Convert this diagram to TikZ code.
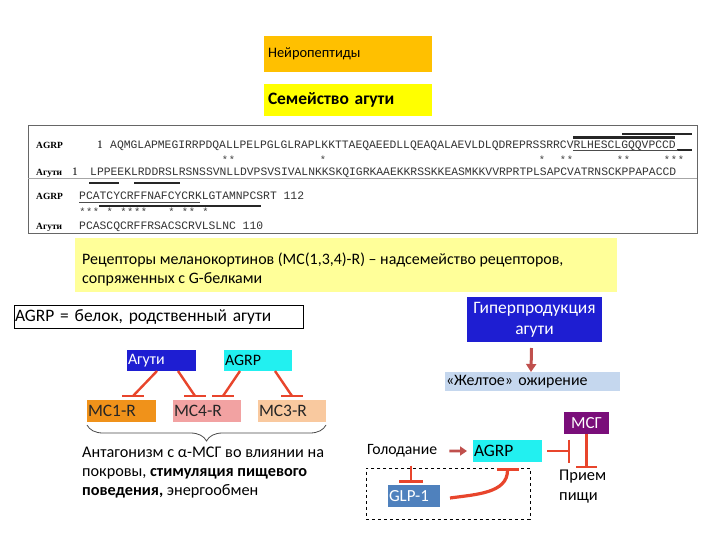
\documentclass[tikz,border=0pt]{standalone}
\usepackage{fontspec}
\setmainfont{Carlito}
\newfontfamily\seqfont{Liberation Mono}
\newfontfamily\labfont{Liberation Serif}
\usetikzlibrary{arrows.meta,decorations.pathreplacing,calc}
\definecolor{nporange}{HTML}{FFC000}
\definecolor{famyel}{HTML}{FFFF00}
\definecolor{recyel}{HTML}{FFFF99}
\definecolor{agublue}{HTML}{1E1ED2}
\definecolor{agrcyan}{HTML}{22F0F0}
\definecolor{mconec}{HTML}{F0921A}
\definecolor{mcfourc}{HTML}{F2A2A2}
\definecolor{mcthreec}{HTML}{F9C99F}
\definecolor{inhred}{HTML}{E8452C}
\definecolor{arrbrown}{HTML}{C0504D}
\definecolor{obblue}{HTML}{C5D7EE}
\definecolor{msgpurple}{HTML}{7A0E7A}
\definecolor{glpblue}{HTML}{4F81BD}
\begin{document}
\begin{tikzpicture}[x=1bp,y=-1bp,
  box/.style={anchor=north west, inner ysep=0, outer sep=0, align=left},
  seqt/.style={font=\seqfont\fontsize{11.4}{12}\selectfont, text=black!80, inner sep=0, anchor=base west},
  labt/.style={font=\labfont\bfseries\fontsize{9.5}{11}\selectfont, inner sep=0, anchor=base west},
  numt/.style={font=\labfont\fontsize{11.5}{12}\selectfont, inner sep=0, anchor=base west},
  start/.style={font=\seqfont\fontsize{10.5}{12}\selectfont, text=black!75, inner sep=0, anchor=base},
  seqbar/.style={line width=2.6bp, black!85},
  uline/.style={line width=0.6bp, black!70},
  inh/.style={draw=inhred, line width=2.4bp},
  brarrow/.style={draw=arrbrown, line width=3bp, -{Triangle[width=10bp,length=8bp]}},
]
\useasboundingbox (0,0) rectangle (720,540);
\fill[white] (0,0) rectangle (720,540);

% top boxes
\node[box, fill=nporange, minimum height=36bp, text width=160bp, inner xsep=4bp,
  font=\fontsize{14.5}{16}\selectfont] (np) at (264,36) {Нейропептиды};
\node[box, fill=famyel, minimum height=32bp, text width=160bp, inner xsep=4bp,
  font=\bfseries\fontsize{17.5}{19}\selectfont] (fam) at (264,84) {Семейство агути};

% sequence alignment
\node[box, draw=black!60, line width=1bp, minimum width=669bp, minimum height=107bp, inner sep=0] (seqbox) at (28,126) {};
\draw[black!35, line width=0.8bp] (seqbox.west |- 0,178) -- (seqbox.east |- 0,178);

\node[labt] (la1) at (36,148.3) {AGRP};
\node[numt] (n1) at (97,148.3) {1};
\node[seqt] (s1) at (110,148.3) {AQMGLAPMEGIRRPDQALLPELPGLGLRAPLKKTTAEQAEEDLLQEAQALAEVLDLQDREPRSSRRCVRLHESCLGQQVPCCD};
\node[labt] (lb1) at (36,175.5) {Агути};
\node[numt] (n2) at (72,175.5) {1};
\node[seqt] (s2) at (90,175.5) {LPPEEKLRDDRSLRSNSSVNLLDVPSVSIVALNKKSKQIGRKAAEKKRSSKKEASMKKVVRPRTPLSAPCVATRNSCKPPAPACCD};
\node[labt] (la2) at (36,199.5) {AGRP};
\node[seqt] (s3) at (79,199.5) {PCATCYCRFFNAFCYCRKLGTAMNPCSRT 112};
\node[labt] (lb2) at (36,229.5) {Агути};
\node[seqt] (s4) at (79,229.5) {PCASCQCRFFRSACSCRVLSLNC 110};

\foreach \sx [count=\i] in {225,232,323,542,563,570,620,627,667,674,681}
  \node[start] (sa\i) at (\sx,164) {*};
\foreach \sx [count=\i] in {82.4,89.3,96.1,109.8,123.5,130.3,137.2,144,171.4,185.1,191.9,205.6}
  \node[start] (sb\i) at (\sx,216) {*};

\draw[seqbar] (622,134) -- (692,134);
\draw[seqbar] (573,137.5) -- (675,137.5);
\draw[seqbar] (677,150) -- (692,150);
\draw[uline] (573,150.5) -- (678,150.5);
\draw[seqbar] (89,183) -- (119,183);
\draw[seqbar] (134,183) -- (180,183);
\draw[uline] (79,202) -- (200,202);
\draw[seqbar] (99,206) -- (261,206);

% receptors
\node[box, fill=recyel, minimum width=542bp, minimum height=54bp, inner sep=0] (rec) at (75,238) {};
\node[anchor=north west, inner sep=0, align=left, font=\fontsize{16}{19}\selectfont] (rect) at (82,253)
  {Рецепторы меланокортинов (MC(1,3,4)-R) – надсемейство рецепторов,\\сопряженных с G-белками};

% AGRP = ...
\node[box, draw=black, line width=0.8bp, minimum height=23bp, text width=287bp, inner xsep=1bp,
  font=\fontsize{17.5}{19}\selectfont] (agb) at (14,305) {AGRP = белок, родственный агути};

% left diagram
\node[box, fill=agublue, text=white, minimum height=21bp, text width=67bp, inner xsep=1bp,
  font=\fontsize{16}{18}\selectfont] (agu) at (127,350) {Агути};
\node[box, fill=agrcyan, minimum height=21bp, text width=66bp, inner xsep=1bp,
  font=\fontsize{16}{18}\selectfont] (agr) at (224,350) {AGRP};
\node[box, fill=mconec, text=black!85, minimum height=22bp, text width=67bp, inner xsep=1bp,
  font=\fontsize{17.5}{19}\selectfont] (mc1) at (87,400) {MC1-R};
\node[box, fill=mcfourc, text=black!85, minimum height=22bp, text width=66bp, inner xsep=1bp,
  font=\fontsize{17.5}{19}\selectfont] (mc4) at (173,400) {MC4-R};
\node[box, fill=mcthreec, text=black!85, minimum height=22bp, text width=66bp, inner xsep=1bp,
  font=\fontsize{17.5}{19}\selectfont] (mc3) at (258,400) {MC3-R};

\coordinate (e1) at ($(mc1.north west)+(46,-4)$);
\coordinate (e2) at ($(mc4.north west)+(22,-4)$);
\coordinate (e3) at ($(mc4.north west)+(50,-4)$);
\coordinate (e4) at ($(mc3.north west)+(34,-4)$);
\draw[inh] ($(agu.south west)+(30,0)$) -- (e1);
\draw[inh] ($(agu.south west)+(51,0)$) -- (e2);
\draw[inh] ($(agr.south west)+(16,0)$) -- (e3);
\draw[inh] ($(agr.south west)+(51,0)$) -- (e4);
\foreach \e in {e1,e2,e3,e4}
  \draw[inh] ($(\e)+(-11,0)$) -- ($(\e)+(11,0)$);

\draw[decorate, decoration={brace, mirror, amplitude=16bp}, black!70, line width=0.8bp]
  ($(mc1.south west)+(0,3)$) -- ($(mc3.south east)+(0,3)$);

\node[anchor=north west, inner sep=0, align=left, font=\fontsize{16.3}{19}\selectfont] (ant) at (82,447)
  {Антагонизм с α-МСГ во влиянии на\\покровы, \textbf{стимуляция пищевого}\\\textbf{поведения,} энергообмен};

% right diagram
\node[box, fill=agublue, text=white, minimum height=45bp, align=center, text width=131bp, inner xsep=2bp,
  font=\fontsize{17.5}{21}\selectfont] (hyp) at (467,297) {Гиперпродукция\\агути};
\node[box, fill=obblue, minimum height=19bp, text width=173bp, inner xsep=1bp,
  font=\fontsize{16}{18}\selectfont] (ob) at (445,372) {«Желтое» ожирение};
\draw[brarrow] ([xshift=-3bp,yshift=-6bp]hyp.south) -- ([xshift=-1.5bp]ob.north);

\node[box, fill=msgpurple, text=white, minimum height=22bp, align=center, text width=43bp, inner xsep=1bp,
  font=\fontsize{17}{19}\selectfont] (msg) at (564,412) {МСГ};
\node[anchor=west, inner sep=0, font=\fontsize{15.8}{18}\selectfont] (gol) at (367,451) {Голодание};
\node[box, fill=agrcyan, minimum height=22bp, text width=67bp, inner xsep=1bp,
  font=\fontsize{17.5}{19}\selectfont] (agr2) at (473,440) {AGRP};
\node[box, fill=glpblue, text=white, minimum height=22bp, text width=50bp, inner xsep=1bp,
  font=\fontsize{17}{19}\selectfont] (glp) at (388,485) {GLP-1};
\node[box, draw=black, dashed, line width=0.8bp, minimum width=164bp, minimum height=51bp, inner sep=0] (dbox) at (366,468) {};
\node[anchor=north west, inner sep=0, align=left, font=\fontsize{16.5}{20}\selectfont] (pri) at (559,470) {Прием\\пищи};

\draw[draw=arrbrown, line width=2.6bp, -{Triangle[width=9bp,length=7bp]}] ([xshift=12bp]gol.east) -- ([xshift=-6bp]agr2.west);
\draw[inh, -{Bar[width=23bp]}] ([xshift=5bp]agr2.east) -- ([xshift=28bp]agr2.east);
\draw[inh, -{Bar[width=21bp]}] (msg.south) -- ([yshift=-34bp]msg.south);
\draw[inh, -{Bar[width=24bp]}] ([xshift=8.5bp,yshift=-8bp]gol.south) -- ([xshift=8.5bp,yshift=-25bp]gol.south);
\draw[inh, line width=3.2bp, -{Bar[width=22bp]}] ([xshift=10bp,yshift=-2bp]glp.east) to[out=8,in=-90] ([yshift=-6bp]agr2.south);
\end{tikzpicture}
\end{document}
